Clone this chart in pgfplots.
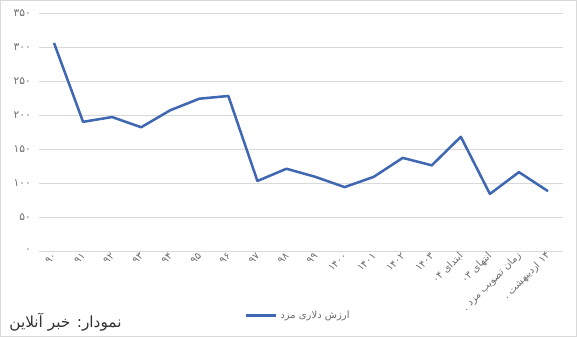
\documentclass[border=0pt]{standalone}
\usepackage{fontspec}
\setmainfont{DejaVu Sans}
\newfontfamily\arabicfont[Script=Arabic]{DejaVu Sans}
\TeXXeTstate=1
\usepackage{pgfplots}
\pgfplotsset{compat=1.18}
\definecolor{lineblue}{HTML}{4068B2}
\definecolor{ticktext}{HTML}{6E6E6E}
\begin{document}
\begin{tikzpicture}
\useasboundingbox (-29.6pt,-64.5pt) rectangle (403.1pt,188.25pt);
\draw[gray!30, line width=0.6pt] (-29.2pt,-64.1pt) rectangle (402.7pt,187.85pt);
\begin{axis}[
  at={(0,0)}, anchor=south west,
  scale only axis, width=392.25pt, height=178.5pt,
  xmin=-0.5, xmax=17.5, ymin=0, ymax=350,
  axis line style={draw=none},
  tick style={draw=none},
  ymajorgrids, grid style={gray!30, line width=0.6pt},
  ytick={0,50,...,350},
  yticklabels={۰,۵۰,۱۰۰,۱۵۰,۲۰۰,۲۵۰,۳۰۰,۳۵۰},
  yticklabel style={font=\arabicfont\fontsize{8}{9}\selectfont, text=ticktext, xshift=-3pt},
  xtick={0,...,17},
  xticklabels={۹۰,۹۱,۹۲,۹۳,۹۴,۹۵,۹۶,۹۷,۹۸,۹۹,۱۴۰۰,۱۴۰۱,۱۴۰۲,۱۴۰۳,
    {\beginR ابتدای \beginL۰۴\endL\endR},
    {\beginR انتهای \beginL۰۳\endL\endR},
    {\beginR زمان  تصویب  مزد .\endR},
    {\beginR \beginL۱۴\endL{}  اردیبهشت .\endR}},
  xticklabel style={font=\arabicfont\fontsize{7.5}{8}\selectfont, text=ticktext, rotate=45, anchor=east, yshift=-2pt, xshift=2pt},
  legend style={at={(0.495,-0.27)}, anchor=center, draw=none, fill=none,
    font=\arabicfont\fontsize{7.5}{8}\selectfont, text=ticktext},
  legend image code/.code={\draw[#1] (0pt,0pt) -- (23pt,0pt);},
]
\addplot[color=lineblue, line width=1.9pt, mark=none, line join=round] coordinates {
(0,306) (1,190) (2,197) (3,182) (4,207) (5,224) (6,228) (7,103) (8,121) (9,109)
(10,94) (11,109) (12,137) (13,126) (14,168) (15,84) (16,116) (17,88)
};
\addlegendentry{\beginR ارزش دلاری مزد\endR}
\end{axis}
\node[font=\arabicfont\fontsize{11.5}{13}\selectfont, text=black!80] at (19.5pt,-53.25pt) {\beginR نمودار: خبر آنلاین\endR};
\end{tikzpicture}
\end{document}
